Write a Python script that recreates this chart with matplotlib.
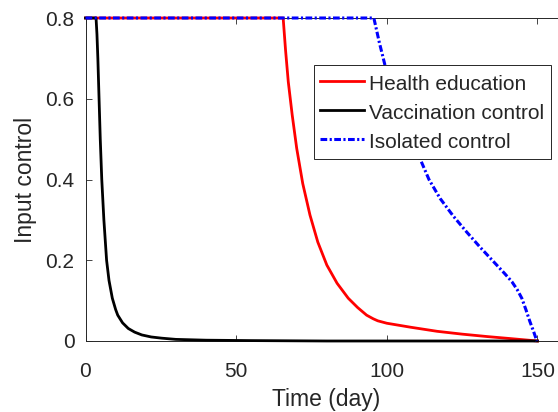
import matplotlib
matplotlib.use("Agg")
import matplotlib.pyplot as plt

# ---- data ----
t_vac = [0, 3.5, 3.8, 4.1, 4.5, 4.9, 5.4, 6.1, 7.0, 7.8, 8.9, 10.0, 10.7, 12.3,
         14.2, 16.3, 18.7, 21.8, 25.3, 30, 40, 55, 80, 150]
u_vac = [0.8, 0.8, 0.76, 0.70, 0.60, 0.50, 0.40, 0.30, 0.20, 0.15, 0.106, 0.078,
         0.064, 0.045, 0.031, 0.022, 0.015, 0.010, 0.007, 0.004, 0.002, 0.001, 0, 0]

t_edu = [0, 65.6, 66.4, 67.3, 68.6, 70.1, 72.1, 74.5, 77.1, 80.1, 83.5, 87.2,
         90.3, 93.3, 95.5, 97.0, 100, 108, 116.7, 125, 133.3, 141, 150]
u_edu = [0.8, 0.8, 0.72, 0.642, 0.56, 0.477, 0.39, 0.312, 0.245, 0.188, 0.143,
         0.106, 0.083, 0.064, 0.055, 0.050, 0.044, 0.034, 0.024, 0.017, 0.011,
         0.006, 0]

t_iso = [0, 95.7, 96.6, 97.5, 98.5, 99.4, 102, 105, 108, 111, 114, 117.7, 122,
         126.5, 131, 136.5, 139, 141.5, 143.3, 144.8, 146.2, 147.5, 148.7, 149.8]
u_iso = [0.8, 0.8, 0.77, 0.74, 0.71, 0.683, 0.63, 0.57, 0.51, 0.452, 0.40, 0.353,
         0.31, 0.27, 0.232, 0.188, 0.168, 0.147, 0.127, 0.106, 0.077, 0.048,
         0.024, 0]

labels = ["Health education", "Vaccination control", "Isolated control"]
x_ticks = [0, 50, 100, 150]
y_ticks = [0, 0.2, 0.4, 0.6, 0.8]
y_tick_labels = ["0", "0.2", "0.4", "0.6", "0.8"]

plt.rcParams['font.family'] = ['Liberation Sans', 'DejaVu Sans']
dark = '#262626'

W, H = 558, 412
fig = plt.figure(figsize=(W / 100, H / 100), dpi=100)
x0, x1 = 85.5, 85.5 + 160 * 3.013
y0, y1 = 341, 18
ax = fig.add_axes([x0 / W, 1 - y0 / H, (x1 - x0) / W, (y0 - y1) / H])

lw = 2.0
ax.plot(t_edu, u_edu, color='#ff0000', lw=lw, label=labels[0], zorder=3,
        clip_on=False)
ax.plot(t_vac, u_vac, color='black', lw=lw, label=labels[1], zorder=3,
        clip_on=False)
ax.plot(t_iso, u_iso, color='#0000ff', lw=2.2, label=labels[2], zorder=4,
        linestyle=(0, (2.2, 0.8, 0.7, 0.8)), clip_on=False)

ax.set_xlim(0, 160)
ax.set_ylim(0, 0.8)
ax.set_xticks(x_ticks)
ax.set_yticks(y_ticks)
ax.set_yticklabels(y_tick_labels)
ax.tick_params(direction='in', top=True, right=True, length=4, width=0.6,
               colors=dark, labelsize=15, labelcolor=dark)
ax.tick_params(axis='x', pad=15)
ax.tick_params(axis='y', pad=8)
for s in ax.spines.values():
    s.set_color(dark)
    s.set_linewidth(0.7)

ax.set_xlabel("Time (day)", fontsize=16.5, color=dark, labelpad=5)
ax.set_ylabel("Input control", fontsize=16.5, color=dark, labelpad=6)

leg = ax.legend(loc='upper left', bbox_to_anchor=(314 / W, 1 - 65 / H),
                bbox_transform=fig.transFigure, borderaxespad=0,
                fontsize=15, frameon=True, fancybox=False, framealpha=1,
                edgecolor=dark, handlelength=2.1, handletextpad=0.25,
                handleheight=1.35, borderpad=0.3, labelspacing=0.28)
leg.get_frame().set_linewidth(0.7)
for txt in leg.get_texts():
    txt.set_color(dark)

fig.savefig("out.png", dpi=100)
